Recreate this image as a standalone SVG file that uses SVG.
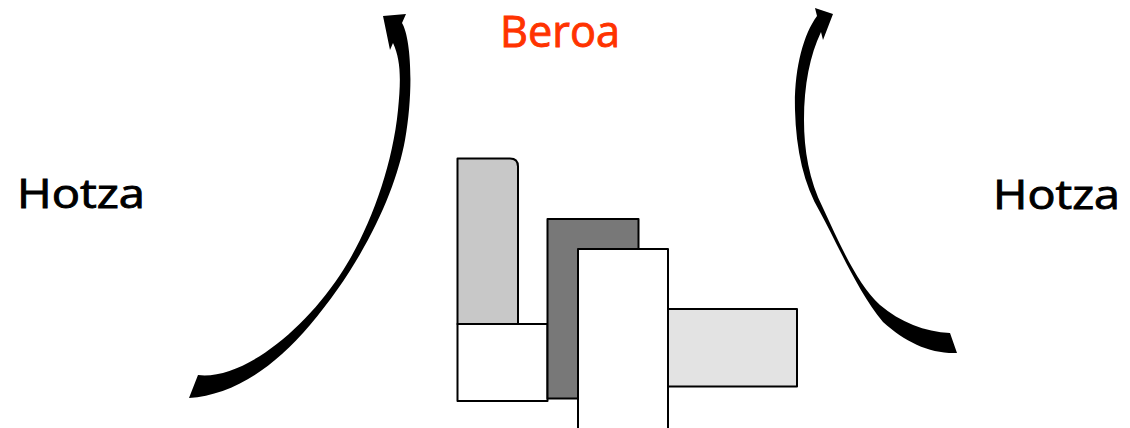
<svg xmlns="http://www.w3.org/2000/svg" width="1130" height="428" viewBox="0 0 1130 428">
  <style>
    .lbl { font-family: "Open Sans", "Liberation Sans", sans-serif; fill: #000000; stroke: #000000; stroke-width: 0.9; }
    .title { font-family: "Open Sans", "Liberation Sans", sans-serif; fill: #ff3300; stroke: #ff3300; stroke-width: 0.9; }
    .blk { stroke: #000000; stroke-width: 2; stroke-linejoin: round; }
    .arrow { fill: #000000; stroke: none; }
  </style>
  <rect width="1130" height="428" fill="#ffffff"/>

  <g id="title">
    <text class="title" x="500" y="47" font-size="44" textLength="120" lengthAdjust="spacingAndGlyphs">Beroa</text>
  </g>
  <g id="label-left">
    <text class="lbl" x="17" y="208" font-size="40" textLength="128" lengthAdjust="spacingAndGlyphs">Hotza</text>
  </g>
  <g id="label-right">
    <text class="lbl" x="993" y="209" font-size="40" textLength="127" lengthAdjust="spacingAndGlyphs">Hotza</text>
  </g>

  <g id="blocks">
    <path id="block-tall-grey" class="blk" fill="#c8c8c8" d="M457.5,324 L457.5,158.5 L510,158.5 Q518,158.5 518,166.5 L518,324 Z"/>
    <rect id="block-white-square" class="blk" x="457.5" y="324" width="90" height="77" fill="#ffffff"/>
    <rect id="block-dark" class="blk" x="547.5" y="219" width="91" height="179.5" fill="#787878"/>
    <rect id="block-light-wide" class="blk" x="668" y="309" width="129" height="77.5" fill="#e3e3e3"/>
    <rect id="block-white-tall" class="blk" x="578" y="249" width="90" height="185" fill="#ffffff"/>
  </g>

  <g id="connectors">
    <path id="arrow-left" class="arrow" d="M383,16 L406,14 L402,23 C411,38 414,90 405,140 C396,190 365,260 310,325 C270,372 230,395 189,398 L198,375 C240,380 300,335 340,275 C368,233 392,170 398,110 C401,80 401,60 393,43 L390,50 Z"/>
    <path id="arrow-right" class="arrow" d="M833,14 L815,8 L817,16 C803,35 794,70 795,110 C796,150 804,185 820,212 C838,245 858,292 883,322 C905,342 930,354 957,353 L950,333 C925,332 900,322 880,305 C858,285 840,245 823,208 C809,180 804,150 804,120 C804,85 810,55 821,32 L823,40 Z"/>
  </g>
</svg>
